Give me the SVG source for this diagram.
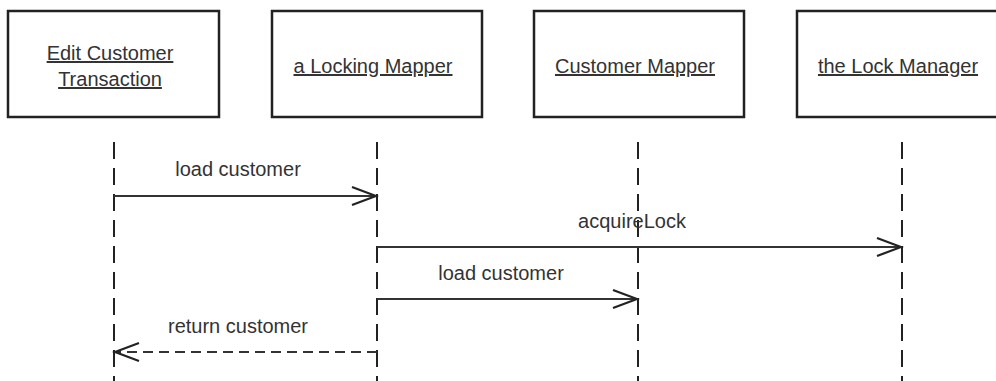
<svg xmlns="http://www.w3.org/2000/svg" width="996" height="381" viewBox="0 0 996 381">
<style>
.box{fill:#fff;stroke:#222;stroke-width:2.5}
.lbl{font-family:"Liberation Sans",Arial,sans-serif;font-size:20px;fill:#333;text-anchor:middle;text-decoration:underline}
.msg{font-family:"Liberation Sans",Arial,sans-serif;font-size:20px;fill:#333;text-anchor:middle}
.life{stroke:#222;stroke-width:2;stroke-dasharray:17 9;fill:none}
.call{stroke:#333;stroke-width:2;fill:none;marker-end:url(#open)}
.ret{stroke:#333;stroke-width:2;fill:none;stroke-dasharray:10 6;marker-end:url(#open)}
</style>
<defs>
<marker id="open" markerUnits="userSpaceOnUse" markerWidth="30" markerHeight="24" viewBox="-27 -12 30 24" refX="0" refY="0" orient="auto">
<path d="M-24,-9 L0,0 L-24,9" fill="none" stroke="#222" stroke-width="2.2"/>
</marker>
</defs>
<rect width="996" height="381" fill="#fff"/>
<g id="edit-customer-transaction">
<rect class="box" x="8" y="11" width="211" height="106"/>
<text class="lbl" x="110" y="60">Edit Customer</text>
<text class="lbl" x="110" y="86">Transaction</text>
</g>
<g id="a-locking-mapper">
<rect class="box" x="272" y="11" width="210" height="106"/>
<text class="lbl" x="373" y="73">a Locking Mapper</text>
</g>
<g id="customer-mapper">
<rect class="box" x="534" y="11" width="210" height="106"/>
<text class="lbl" x="635" y="73">Customer Mapper</text>
</g>
<g id="the-lock-manager">
<rect class="box" x="797" y="11" width="210" height="106"/>
<text class="lbl" x="898" y="73">the Lock Manager</text>
</g>
<g id="connectors">
<line class="life" x1="114" y1="142" x2="114" y2="381"/>
<line class="life" x1="377" y1="142" x2="377" y2="381"/>
<line class="life" x1="638" y1="142" x2="638" y2="381"/>
<line class="life" x1="902" y1="142" x2="902" y2="381"/>
<line class="call" x1="114" y1="196" x2="376" y2="196"/>
<text class="msg" x="238" y="176">load customer</text>
<line class="call" x1="377" y1="247" x2="901" y2="247"/>
<text class="msg" x="632" y="228">acquireLock</text>
<line class="call" x1="377" y1="299" x2="637" y2="299"/>
<text class="msg" x="501" y="280">load customer</text>
<line class="ret" x1="377" y1="352" x2="115" y2="352"/>
<text class="msg" x="238" y="333">return customer</text>
</g>
</svg>
